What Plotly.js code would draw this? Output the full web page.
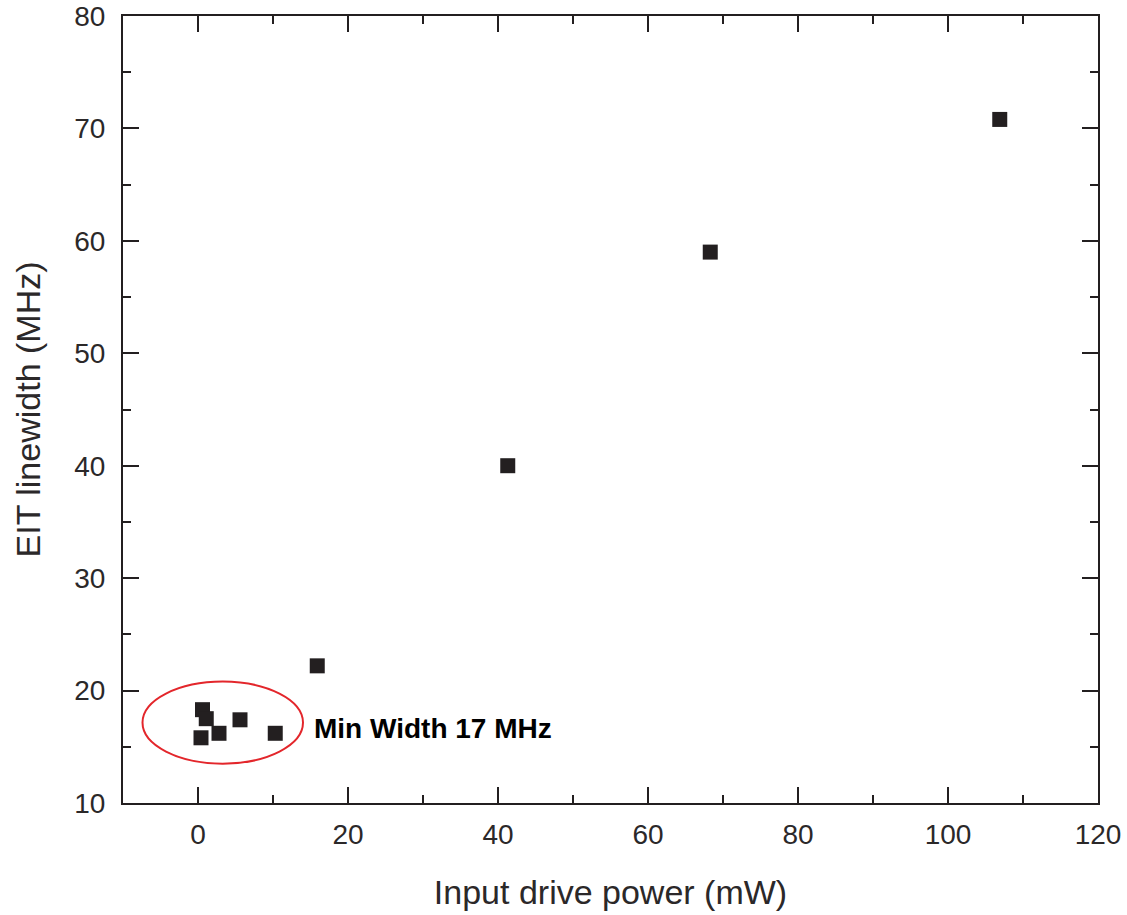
<!DOCTYPE html>
<html>
<head>
<meta charset="utf-8">
<script src="https://cdn.plot.ly/plotly-3.0.1.min.js"></script>
<style>html,body{margin:0;padding:0;background:#fff;}#chart{width:1127px;height:915px;}</style>
</head>
<body>
<div id="chart"></div>
<script>
// Data
const drivePower = [0.4, 0.6, 1.1, 2.8, 5.6, 10.3, 15.9, 41.3, 68.3, 106.9];   // mW
const eitLinewidth = [15.8, 18.3, 17.5, 16.2, 17.4, 16.2, 22.2, 40.0, 59.0, 70.8]; // MHz
const xTickVals = [0, 20, 40, 60, 80, 100, 120];
const yTickVals = [10, 20, 30, 40, 50, 60, 70, 80];
const xTitle = 'Input drive power (mW)';
const yTitle = 'EIT linewidth (MHz)';
const noteText = 'Min Width 17 MHz';

const ink = '#231f20';
const textInk = '#2b2829';
const fontFam = '"Liberation Sans", Arial, sans-serif';

const trace = {
  x: drivePower,
  y: eitLinewidth,
  mode: 'markers',
  type: 'scatter',
  marker: {symbol: 'square', size: 15, color: ink, line: {width: 0}},
  showlegend: false,
  hoverinfo: 'x+y'
};

const axisCommon = {
  showgrid: false,
  zeroline: false,
  showline: true,
  linecolor: ink,
  linewidth: 2,
  mirror: 'ticks',
  ticks: 'inside',
  ticklen: 16,
  tickwidth: 2,
  tickcolor: ink,
  tickfont: {family: fontFam, size: 28, color: textInk},
  tickmode: 'array'
};

const layout = {
  width: 1127,
  height: 915,
  margin: {l: 123, r: 29, t: 16, b: 112},
  paper_bgcolor: '#fff',
  plot_bgcolor: '#fff',
  xaxis: Object.assign({}, axisCommon, {
    range: [-10, 120],
    tickvals: xTickVals,
    ticktext: xTickVals.map(String),
    ticklabelstandoff: 5,
    minor: {dtick: 10, tick0: 0, ticks: 'inside', ticklen: 8, tickwidth: 2, tickcolor: ink, showgrid: false},
    title: {text: xTitle, font: {family: fontFam, size: 34, color: textInk}, standoff: 32}
  }),
  yaxis: Object.assign({}, axisCommon, {
    range: [10, 80],
    tickvals: yTickVals,
    ticktext: yTickVals.map(String),
    ticklabelstandoff: 10,
    minor: {dtick: 5, tick0: 0, ticks: 'inside', ticklen: 8, tickwidth: 2, tickcolor: ink, showgrid: false},
    title: {text: yTitle, font: {family: fontFam, size: 34, color: textInk}, standoff: 23}
  }),
  shapes: [{
    type: 'circle', xref: 'x', yref: 'y',
    x0: -7.4, x1: 14.0, y0: 13.5, y1: 20.8,
    line: {color: '#e3262b', width: 2}
  }],
  annotations: [{
    x: 15.2, y: 16.6, xref: 'x', yref: 'y',
    xanchor: 'left', yanchor: 'middle',
    text: '<b>' + noteText + '</b>',
    showarrow: false,
    font: {family: fontFam, size: 28, color: '#000'}
  }]
};

Plotly.newPlot('chart', [trace], layout, {displayModeBar: false, staticPlot: true});
</script>
</body>
</html>
